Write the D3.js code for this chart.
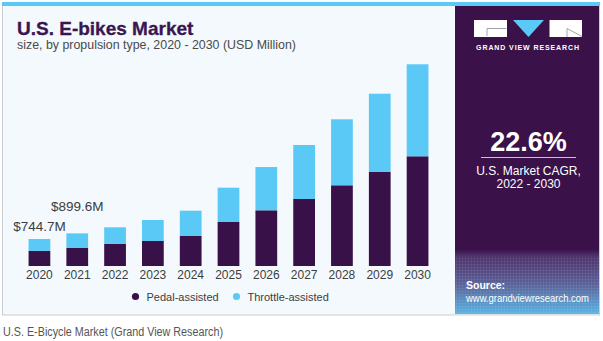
<!DOCTYPE html>
<html>
<head>
<meta charset="utf-8">
<script src="https://cdn.jsdelivr.net/npm/d3@7"></script>
<style>
  html, body { margin: 0; padding: 0; background: #ffffff; }
  svg { display: block; }
  text { font-family: "Liberation Sans", Arial, sans-serif; }
</style>
</head>
<body>
<svg id="chart" width="603" height="341"></svg>
<script>
// U.S. e-bike market size by propulsion type, USD million
const years = ["2020", "2021", "2022", "2023", "2024", "2025", "2026", "2027", "2028", "2029", "2030"];
const pedalAssisted    = [414, 497, 615, 690, 836, 1214, 1536, 1848, 2226, 2593, 3026];
const throttleAssisted = [330.7, 402.6, 452, 579, 689, 946, 1194, 1489, 1820, 2159, 2537];
const seriesNames = ["Pedal-assisted", "Throttle-assisted"];
const seriesColors = ["#381149", "#5bc9f6"];
// callouts: year, text, extra lift above the bar top
const callouts = [
  { year: "2020", text: "$744.7M", lift: 8 },
  { year: "2021", text: "$899.6M", lift: 22 }
];

const svg = d3.select("#chart");

// frame: light panel with blue top rule and grey border
svg.append("rect").attr("x", 2.5).attr("y", 2.5).attr("width", 597).attr("height", 312.5)
  .attr("fill", "#f4f9fd").attr("stroke", "#c9cdd1").attr("stroke-width", 1);
svg.append("rect").attr("x", 2).attr("y", 2).attr("width", 598).attr("height", 4)
  .attr("fill", "#5bc9f6");

// title block
svg.append("text").attr("x", 17).attr("y", 34.5)
  .attr("font-size", 19).attr("font-weight", "bold").attr("fill", "#3a1650")
  .attr("stroke", "#3a1650").attr("stroke-width", 0.3)
  .text("U.S. E-bikes Market");
svg.append("text").attr("x", 17).attr("y", 49)
  .attr("font-size", 12.4).attr("fill", "#4a4a4a")
  .text("size, by propulsion type, 2020 - 2030 (USD Million)");

// stacked bars
const table = years.map((y, i) => ({ year: y, pedal: pedalAssisted[i], throttle: throttleAssisted[i] }));
const stack = d3.stack().keys(["pedal", "throttle"])(table);

const x = d3.scaleBand().domain(years).range([21, 436]).paddingInner(0.425).paddingOuter(0.2);
const y = d3.scaleLinear().domain([0, 5563]).range([266, 64.3]);

svg.append("g").selectAll("g").data(stack).join("g")
  .attr("fill", (d, i) => seriesColors[i])
  .selectAll("rect").data(d => d).join("rect")
  .attr("x", d => x(d.data.year))
  .attr("y", d => y(d[1]))
  .attr("width", x.bandwidth())
  .attr("height", d => y(d[0]) - y(d[1]));

// year axis (labels only)
const axis = svg.append("g").attr("transform", "translate(0,266)")
  .call(d3.axisBottom(x).tickSize(0).tickPadding(4));
axis.select(".domain").remove();
axis.selectAll("text")
  .attr("font-family", "\"Liberation Sans\", Arial, sans-serif")
  .attr("font-size", 12).attr("fill", "#3d3d3d");

// value callouts
const totals = new Map(table.map(d => [d.year, d.pedal + d.throttle]));
svg.append("g").selectAll("text").data(callouts).join("text")
  .attr("x", d => x(d.year) + x.bandwidth() / 2)
  .attr("y", d => y(totals.get(d.year)) - d.lift)
  .attr("text-anchor", "middle")
  .attr("font-size", 13.5).attr("fill", "#3d3d3d")
  .text(d => d.text);

// legend
const legend = svg.append("g").attr("transform", "translate(135.5,296.5)");
const legendItems = legend.selectAll("g").data(seriesNames).join("g")
  .attr("transform", (d, i) => `translate(${i * 101},0)`);
legendItems.append("circle").attr("r", 3.6).attr("fill", (d, i) => seriesColors[i]);
legendItems.append("text").attr("x", 11).attr("y", 4)
  .attr("font-size", 11).attr("fill", "#3d3d3d").text(d => d);

// side panel
const defs = svg.append("defs");
const grad = defs.append("linearGradient").attr("id", "panelGrad")
  .attr("x1", 0).attr("y1", 0).attr("x2", 0).attr("y2", 1);
grad.append("stop").attr("offset", "0%").attr("stop-color", "#3a1149");
grad.append("stop").attr("offset", "79%").attr("stop-color", "#3a1149");
grad.append("stop").attr("offset", "81%").attr("stop-color", "#4d3068");
grad.append("stop").attr("offset", "90%").attr("stop-color", "#5a5e96");
grad.append("stop").attr("offset", "100%").attr("stop-color", "#58b4e4");
const pattern = defs.append("pattern").attr("id", "panelGrid")
  .attr("width", 3).attr("height", 3).attr("patternUnits", "userSpaceOnUse");
pattern.append("path").attr("d", "M0,0.5H3M0.5,0V3")
  .attr("stroke", "#ffffff").attr("stroke-opacity", 0.06).attr("stroke-width", 1);

const panelX = 455, panelW = 144, panelTop = 6, panelBottom = 314;
svg.append("rect").attr("x", panelX).attr("y", panelTop).attr("width", panelW)
  .attr("height", panelBottom - panelTop).attr("fill", "url(#panelGrad)");
svg.append("rect").attr("x", panelX).attr("y", 256).attr("width", panelW)
  .attr("height", panelBottom - 256).attr("fill", "url(#panelGrid)");

// logo
const logo = svg.append("g");
logo.append("rect").attr("x", 474).attr("y", 20).attr("width", 33).attr("height", 17).attr("fill", "#ffffff");
logo.append("path").attr("d", "M487,28.5H506.5M487,28.5V36").attr("stroke", "#8d8d9a").attr("stroke-width", 0.8).attr("fill", "none");
logo.append("path").attr("d", "M513,20H544L528.5,37Z").attr("fill", "#5bc9f6");
logo.append("rect").attr("x", 549.5).attr("y", 20).attr("width", 32.5).attr("height", 17).attr("fill", "#ffffff");
logo.append("path").attr("d", "M567,28.5L582,36.5M567,28.5V37").attr("stroke", "#8d8d9a").attr("stroke-width", 0.8).attr("fill", "none");
logo.append("text").attr("x", 528).attr("y", 49.5).attr("text-anchor", "middle")
  .attr("font-size", 7).attr("font-weight", "bold").attr("fill", "#ffffff")
  .attr("letter-spacing", 0.9).text("GRAND VIEW RESEARCH");

// CAGR block
svg.append("text").attr("x", 528.5).attr("y", 151).attr("text-anchor", "middle")
  .attr("font-size", 27).attr("font-weight", "bold").attr("fill", "#ffffff").text("22.6%");
svg.append("line").attr("x1", 481).attr("x2", 576).attr("y1", 157.5).attr("y2", 157.5)
  .attr("stroke", "#c8c0d0").attr("stroke-width", 1);
svg.append("text").attr("x", 528.5).attr("y", 175).attr("text-anchor", "middle")
  .attr("font-size", 12).attr("fill", "#ffffff").text("U.S. Market CAGR,");
svg.append("text").attr("x", 528.5).attr("y", 188).attr("text-anchor", "middle")
  .attr("font-size", 12).attr("fill", "#ffffff").text("2022 - 2030");

// source
svg.append("text").attr("x", 466).attr("y", 288.5)
  .attr("font-size", 10.5).attr("font-weight", "bold").attr("fill", "#ffffff").text("Source:");
svg.append("text").attr("x", 466).attr("y", 301.5)
  .attr("font-size", 10).attr("fill", "#ffffff")
  .attr("textLength", 123).attr("lengthAdjust", "spacingAndGlyphs")
  .text("www.grandviewresearch.com");

// caption under the frame
svg.append("text").attr("x", 3).attr("y", 336)
  .attr("font-family", "\"Liberation Sans Narrow\", \"Arial Narrow\", \"Liberation Sans\", sans-serif")
  .attr("font-size", 12.5).attr("fill", "#555555")
  .attr("textLength", 220).attr("lengthAdjust", "spacingAndGlyphs")
  .text("U.S. E-Bicycle Market (Grand View Research)");
</script>
</body>
</html>
